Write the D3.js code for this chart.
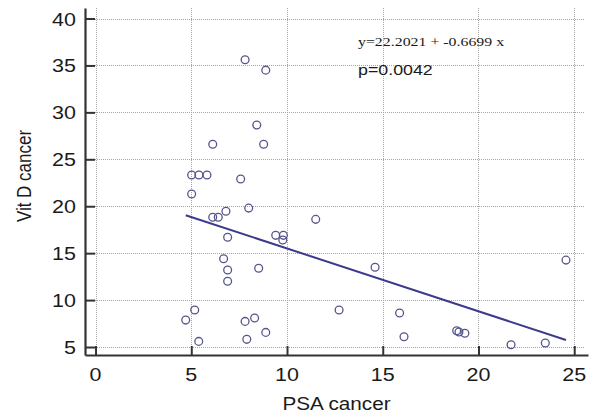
<!DOCTYPE html>
<html>
<head>
<meta charset="utf-8">
<script src="https://cdn.jsdelivr.net/npm/d3@7"></script>
<style>
  body { margin: 0; background: #fff; }
  text { font-family: "Liberation Sans", Arial, sans-serif; fill: #1a1a1a; }
</style>
</head>
<body>
<div id="scatter_viz"></div>
<script>
//data
const psa = [7.81, 8.89, 8.42, 6.12, 8.78, 5.02, 5.40, 5.82, 7.58, 5.02,
    8.0, 6.81, 6.12, 6.41, 11.5, 9.41, 9.81, 9.78, 6.9, 6.69,
    6.9, 8.52, 6.9, 5.18, 4.71, 12.72, 7.81, 8.31, 8.89, 5.39,
    7.9, 14.6, 24.57, 15.88, 16.11, 18.86, 18.98, 19.29, 21.7, 23.49]
const vitd = [35.6, 34.5, 28.65, 26.6, 26.6, 23.33, 23.33, 23.33, 22.9, 21.3,
    19.8, 19.47, 18.83, 18.83, 18.6, 16.9, 16.9, 16.4, 16.7, 14.4,
    13.2, 13.4, 12.0, 8.94, 7.87, 8.94, 7.73, 8.09, 6.56, 5.6,
    5.82, 13.5, 14.26, 8.62, 6.1, 6.73, 6.6, 6.46, 5.24, 5.43]

//regression (from the annotation)
const reg_intercept = 22.2021
const reg_slope = -0.6699
const p_value = "0.0042"

//tick labels
const x_ticks = [0, 5, 10, 15, 20, 25]
const y_ticks = [5, 10, 15, 20, 25, 30, 35, 40]

//set dimensions + margins
const width = 589,
    height = 416,
    margin = {top: 8, right: 1, bottom: 61, left: 85};

//text in the picture is a little wider than tall
const stretch = 1.12

const svg = d3.select("#scatter_viz")
    .append("svg")
        .attr("width", width)
        .attr("height", height)

//scales
const x = d3.scaleLinear()
    .domain([-0.55, 25.72])
    .range([margin.left, width - margin.right])

const y = d3.scaleLinear()
    .domain([4.15, 41.12])
    .range([height - margin.bottom, margin.top])

//grid
const grid = svg.append("g")
    .attr("stroke", "#a5a5a5")
    .attr("stroke-width", 1)
    .attr("stroke-dasharray", "1,1")

grid.selectAll("vgrid")
    .data(x_ticks)
    .join("line")
        .attr("x1", d => Math.round(x(d)) + 0.5)
        .attr("x2", d => Math.round(x(d)) + 0.5)
        .attr("y1", y.range()[1])
        .attr("y2", y.range()[0])

grid.selectAll("hgrid")
    .data(y_ticks)
    .join("line")
        .attr("x1", x.range()[0])
        .attr("x2", x.range()[1] - 4)
        .attr("y1", d => Math.round(y(d)) + 0.5)
        .attr("y2", d => Math.round(y(d)) + 0.5)

//axes, ticks pointing inward
const x_axis = svg.append("g")
    .attr("transform", `translate(0, ${y.range()[0]})`)
    .call(d3.axisBottom(x).tickValues(x_ticks).tickSizeInner(-9).tickSizeOuter(0).tickFormat(""))

const y_axis = svg.append("g")
    .attr("transform", `translate(${x.range()[0]}, 0)`)
    .call(d3.axisLeft(y).tickValues(y_ticks).tickSizeInner(-10).tickSizeOuter(0).tickFormat(""))

for (const ax of [x_axis, y_axis]) {
    ax.select(".domain").attr("stroke", "#333").attr("stroke-width", 2.2)
    ax.selectAll(".tick line").attr("stroke", "#333").attr("stroke-width", 2)
}

//tick labels
svg.selectAll("xlab")
    .data(x_ticks)
    .join("text")
    .text(d => d)
    .attr("transform", d => `translate(${x(d)}, 381) scale(${stretch}, 1)`)
    .style("text-anchor", "middle")
    .style("font-size", "19.2px")

svg.selectAll("ylab")
    .data(y_ticks)
    .join("text")
    .text(d => d)
    .attr("transform", d => `translate(76, ${y(d) + 7}) scale(${stretch}, 1)`)
    .style("text-anchor", "end")
    .style("font-size", "19.2px")

//axis titles
svg.append("text")
    .text("PSA cancer")
    .attr("transform", `translate(${(x.range()[0] + x.range()[1]) / 2}, 410) scale(${stretch}, 1)`)
    .style("text-anchor", "middle")
    .style("font-size", "18.5px")

svg.append("text")
    .text("Vit D cancer")
    .attr("transform", `translate(31, 176) scale(1.2, 1) rotate(-90)`)
    .style("text-anchor", "middle")
    .style("font-size", "17px")

//regression line over the data range
const x_ext = d3.extent(psa)
svg.append("line")
    .attr("x1", x(x_ext[0]))
    .attr("y1", y(reg_intercept + reg_slope * x_ext[0]))
    .attr("x2", x(x_ext[1]))
    .attr("y2", y(reg_intercept + reg_slope * x_ext[1]))
    .attr("stroke", "#3b3b8e")
    .attr("stroke-width", 2)

//points
svg.selectAll("dots")
    .data(d3.zip(psa, vitd))
    .join("circle")
        .attr("cx", d => x(d[0]))
        .attr("cy", d => y(d[1]))
        .attr("r", 3.9)
        .attr("fill", "none")
        .attr("stroke", "#55558a")
        .style("stroke-width", "1.3px")

//annotation
svg.append("text")
    .text(`y=${reg_intercept} + ${reg_slope} x`)
    .attr("transform", `translate(358, 46) scale(1.22, 1)`)
    .style("font-family", "'Liberation Serif', 'Times New Roman', serif")
    .style("font-size", "13px")

svg.append("text")
    .text(`p=${p_value}`)
    .attr("transform", `translate(358, 75) scale(1.15, 1)`)
    .style("font-size", "15.5px")
</script>
</body>
</html>
